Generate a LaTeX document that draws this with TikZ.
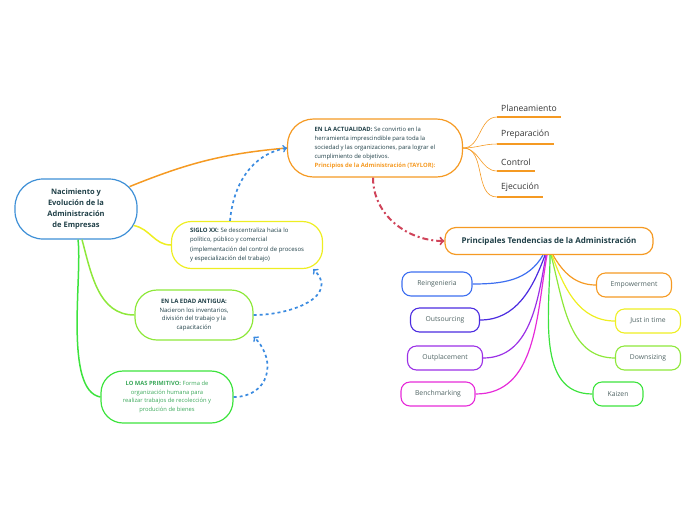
\documentclass[tikz,border=0pt]{standalone}
\usepackage{fontspec}
\setmainfont{Open Sans}
\usepackage{xcolor}
\usepackage{tikz}
\usetikzlibrary{shapes,arrows,positioning}
\definecolor{azulC}{HTML}{3D8FD6}
\definecolor{azulD}{HTML}{3B8BE0}
\definecolor{naranja}{HTML}{F59A23}
\definecolor{amarillo}{HTML}{EEEE22}
\definecolor{verdeL}{HTML}{8EE83A}
\definecolor{verde}{HTML}{3DE33D}
\definecolor{verdeT}{HTML}{3BA85A}
\definecolor{azulR}{HTML}{3D6FF0}
\definecolor{indigo}{HTML}{4B2BE0}
\definecolor{morado}{HTML}{9B30E6}
\definecolor{magenta}{HTML}{E62BD9}
\definecolor{rojo}{HTML}{D0445A}
\definecolor{textoOS}{HTML}{1F3F47}
\definecolor{gris}{HTML}{4F6363}
\tikzstyle{blockMain} = [rectangle, draw=azulC, line width=1.2pt, rounded corners=28pt, minimum width=122pt, minimum height=60pt, align=center, text=textoOS, font=\fontsize{7.5}{11.2}\selectfont\bfseries]
\tikzstyle{blockOR} = [rectangle, draw=naranja, line width=1.2pt, rounded corners=26pt, minimum width=175pt, minimum height=58pt, align=left, text=textoOS, font=\fontsize{5.9}{9}\selectfont]
\tikzstyle{blockYL} = [rectangle, draw=amarillo, line width=1.2pt, rounded corners=20pt, minimum width=151pt, minimum height=47pt, align=left, text=textoOS, font=\fontsize{6}{9.3}\selectfont]
\tikzstyle{blockLG} = [rectangle, draw=verdeL, line width=1.2pt, rounded corners=22pt, minimum width=118pt, minimum height=50pt, align=center, text=textoOS, font=\fontsize{6}{8.7}\selectfont]
\tikzstyle{blockGR} = [rectangle, draw=verde, line width=1.2pt, rounded corners=22pt, minimum width=132pt, minimum height=52pt, align=center, text=verdeT, font=\fontsize{5.8}{8.7}\selectfont]
\tikzstyle{blockTD} = [rectangle, draw=naranja, line width=1.2pt, rounded corners=11pt, minimum width=208pt, minimum height=27pt, text=textoOS, font=\fontsize{8}{9}\selectfont\bfseries]
\tikzstyle{tema} = [rectangle, draw, line width=1.1pt, rounded corners=9pt, minimum height=24pt, text=gris, font=\fontsize{6.8}{8}\selectfont]
\tikzstyle{paso} = [rectangle, anchor=south west, inner xsep=4pt, inner ysep=5pt, text=black!80, font=\fontsize{8.6}{10}\selectfont]
\tikzstyle{line} = [draw, line width=1.5pt]
\tikzstyle{rama} = [draw, line width=1.2pt]
\tikzstyle{flecha} = [draw=azulD, line width=1.7pt, dash pattern=on 3pt off 3pt, ->]
\tikzstyle{flechaR} = [draw=rojo, line width=2pt, dash pattern=on 6pt off 3pt on 2pt off 3pt, ->]

\begin{document}
\begin{tikzpicture}[x=1pt, y=-1pt]
    \useasboundingbox (0,0) rectangle (696,520);
    % nodes
    \node [blockMain] (origen) at (76,209) {Nacimiento y\\Evolución de la\\Administración\\de Empresas};
    \node [blockOR] (actual) at (375,148) {\textbf{EN LA ACTUALIDAD:} Se convirtio en la\\herramienta imprescindible para toda la\\sociedad y las organizaciones, para lograr el\\cumplimiento de objetivos.\\\textcolor{naranja}{\textbf{Principios de la Administración (TAYLOR):}}};
    \node [blockYL] (siglo) at (247,245) {\textbf{SIGLO XX:} Se descentraliza hacia lo\\político, público y comercial\\(implementación del control de procesos\\y especialización del trabajo)};
    \node [blockLG] (antigua) at (194,315) {\textbf{EN LA EDAD ANTIGUA:}\\Nacieron los inventarios,\\división del trabajo y la\\capacitación};
    \node [blockGR] (primitivo) at (167,397) {\textbf{LO MAS PRIMITIVO:} Forma de\\organización humana para\\realizar trabajos de recolección y\\produción de bienes};
    \node [blockTD] (tendencias) at (549,241) {Principales Tendencias de la Administración};

    % principios de Taylor
    \node [paso] (planea) at (497,117) {Planeamiento};
    \node [paso] (prepara) at (497,144) {Preparación};
    \node [paso] (control) at (497,171) {Control};
    \node [paso] (ejecuta) at (497,197) {Ejecución};

    % tendencias
    \node [tema, draw=azulR, minimum width=70pt] (reing) at (437,284) {Reingenieria};
    \node [tema, draw=indigo, minimum width=69pt] (outs) at (445,320) {Outsourcing};
    \node [tema, draw=morado, minimum width=75pt] (outp) at (445,358) {Outplacement};
    \node [tema, draw=magenta, minimum width=74pt] (bench) at (438,394) {Benchmarking};
    \node [tema, draw=naranja, minimum width=75pt] (empow) at (634,285) {Empowerment};
    \node [tema, draw=amarillo, minimum width=65pt] (jit) at (648,321) {Just in time};
    \node [tema, draw=verdeL, minimum width=65pt] (down) at (648,358) {Downsizing};
    \node [tema, draw=verde, minimum width=50pt] (kaizen) at (618,394) {Kaizen};

    % edges
    \path [line, draw=naranja] ([xshift=-8pt]origen.20) to[out=22, in=185] (actual.west);
    \path [line, draw=amarillo] ([xshift=-4pt]origen.-15) to[out=-10, in=180] (siglo.west);
    \path [line, draw=verdeL] ([xshift=6pt]origen.south) to[out=-75, in=180] (antigua.west);
    \path [line, draw=verde] ([xshift=2pt]origen.south) to[out=-83, in=170, looseness=0.6] (primitivo.west);

    \path [flecha] ([xshift=-17pt]siglo.north) to[out=85, in=190] (actual.west);
    \path [flecha] (antigua.east) to[out=0, in=-45, looseness=1.3] (siglo.-20);
    \path [flecha] (primitivo.east) to[out=0, in=-45, looseness=1.4] (antigua.-20);
    \path [flechaR] ([xshift=-2pt]actual.south) to[out=-90, in=180] (tendencias.west);

    \foreach \p in {planea, prepara, control, ejecuta} {
      \path [draw=naranja, line width=0.6pt] (actual.east) to[out=0, in=180] (\p.south west);
      \path [draw=naranja, line width=1.5pt] (\p.south west) -- (\p.south east);
    }

    \path [rama, draw=azulR] ([xshift=-6pt]tendencias.south) to[out=-120, in=0] (reing.east);
    \path [rama, draw=indigo] ([xshift=-4pt]tendencias.south) to[out=-110, in=0] (outs.east);
    \path [rama, draw=morado] ([xshift=-3pt]tendencias.south) to[out=-100, in=0] (outp.east);
    \path [rama, draw=magenta] ([xshift=-2pt]tendencias.south) to[out=-100, in=0] (bench.east);
    \path [rama, draw=naranja] ([xshift=4pt]tendencias.south) to[out=-60, in=180] (empow.west);
    \path [rama, draw=amarillo] ([xshift=3pt]tendencias.south) to[out=-70, in=180] (jit.west);
    \path [rama, draw=verdeL] ([xshift=2pt]tendencias.south) to[out=-75, in=180] (down.west);
    \path [rama, draw=verde] ([xshift=1pt]tendencias.south) to[out=-90, in=180] (kaizen.west);
\end{tikzpicture}
\end{document}
